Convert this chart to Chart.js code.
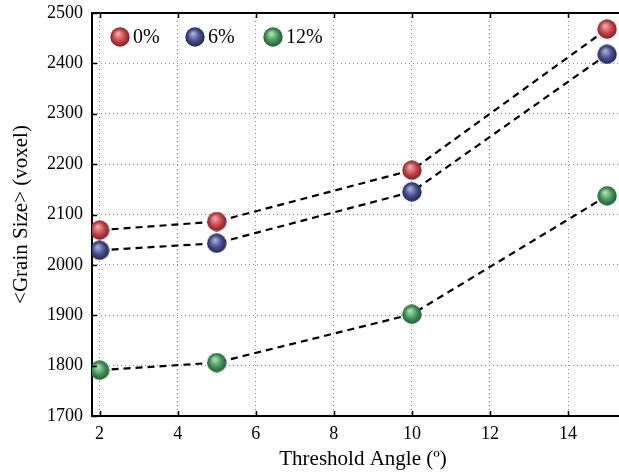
<!DOCTYPE html>
<html>
<head>
<meta charset="utf-8">
<script src="https://cdn.jsdelivr.net/npm/chart.js@4/dist/chart.umd.min.js"></script>
<style>
html,body{margin:0;padding:0;background:#fff;overflow:hidden;}
#wrap{width:619px;height:474px;overflow:hidden;}
</style>
</head>
<body>
<div id="wrap"><canvas id="c" width="634" height="474"></canvas></div>
<script>
const thresholdAngles = [2, 5, 10, 15];
const grain0 = [2069, 2086, 2188, 2468];
const grain6 = [2029, 2043, 2145, 2418];
const grain12 = [1791, 1806, 1902, 2137];
const seriesLabels = ['0%', '6%', '12%'];
const xTicks = [2, 4, 6, 8, 10, 12, 14];
const yTicks = [1700, 1800, 1900, 2000, 2100, 2200, 2300, 2400, 2500];

function ball(base, light, dark) {
  const s = 20;
  const c = document.createElement('canvas');
  c.width = s; c.height = s;
  const g = c.getContext('2d');
  const grd = g.createRadialGradient(s*0.4, s*0.33, 1, s/2, s/2, s/2);
  grd.addColorStop(0, light);
  grd.addColorStop(0.55, base);
  grd.addColorStop(1, dark);
  g.fillStyle = grd;
  g.beginPath(); g.arc(s/2, s/2, s/2 - 0.3, 0, Math.PI*2); g.fill();
  return c;
}
const balls = [
  ball('#c2454b', '#f2a0a2', '#7a1e22'),
  ball('#454c8c', '#a2a8d8', '#22264e'),
  ball('#43935a', '#a8dcb2', '#1f5a30')
];

function pts(arr) { return thresholdAngles.map((x, i) => ({x: x, y: arr[i]})); }
const allSeries = [grain0, grain6, grain12];

const datasets = allSeries.map((s, i) => ({
  label: seriesLabels[i],
  data: pts(s),
  showLine: true,
  borderColor: '#000',
  borderWidth: 2.2,
  borderDash: [7, 5],
  pointStyle: balls[i],
  pointRadius: 10,
  pointHoverRadius: 10,
  fill: false
}));

const serif = '"Liberation Serif", "Times New Roman", serif';

const extras = {
  id: 'extras',
  afterDraw(chart) {
    const ctx = chart.ctx;
    const a = chart.chartArea;
    const xs = chart.scales.x, ys = chart.scales.y;
    ctx.save();
    ctx.strokeStyle = '#000';
    ctx.lineWidth = 2;
    ctx.beginPath();
    ctx.moveTo(a.left - 1, a.top);
    ctx.lineTo(a.right, a.top);
    ctx.stroke();
    ctx.lineWidth = 1.5;
    ctx.beginPath();
    xTicks.forEach(v => {
      const px = Math.round(xs.getPixelForValue(v)) + 0.5;
      ctx.moveTo(px, a.bottom); ctx.lineTo(px, a.bottom - 5);
      ctx.moveTo(px, a.top); ctx.lineTo(px, a.top + 5);
    });
    yTicks.forEach(v => {
      const py = Math.round(ys.getPixelForValue(v)) + 0.5;
      ctx.moveTo(a.left, py); ctx.lineTo(a.left + 5, py);
    });
    ctx.stroke();
    // legend
    ctx.font = '20px ' + serif;
    ctx.fillStyle = '#000';
    ctx.textBaseline = 'middle';
    const legX = [120, 195, 273];
    chart.data.datasets.forEach((d, i) => {
      const img = balls[i];
      ctx.drawImage(img, legX[i] - img.width/2, 37 - img.height/2);
      ctx.fillText(d.label, legX[i] + 13, 38);
    });
    ctx.restore();
  }
};

new Chart(document.getElementById('c'), {
  type: 'scatter',
  data: { datasets },
  plugins: [extras],
  options: {
    responsive: false,
    animation: false,
    layout: { autoPadding: false, padding: { top: 13, right: 0, left: 0, bottom: 0 } },
    plugins: { legend: { display: false }, tooltip: { enabled: false } },
    scales: {
      x: {
        type: 'linear',
        min: 1.805,
        max: 15.69,
        afterBuildTicks: s => { s.ticks = xTicks.map(v => ({value: v})); },
        afterFit: s => { s.height = 58; s.paddingLeft = 0; s.paddingRight = 0; },
        grid: { color: '#8a8a8a', lineWidth: 1, drawTicks: false },
        border: { display: true, color: '#000', width: 2, dash: [1, 3] },
        ticks: { color: '#000', font: { family: serif, size: 18 }, padding: 7, maxRotation: 0,
                 callback: v => String(v) },
        title: { display: true, text: 'Threshold Angle (º)', color: '#000',
                 font: { family: serif, size: 21, lineHeight: 1.2 }, padding: { top: 0, bottom: 2 } }
      },
      y: {
        type: 'linear',
        min: 1700,
        max: 2500,
        afterBuildTicks: s => { s.ticks = yTicks.map(v => ({value: v})); },
        afterFit: s => { s.width = 92; s.paddingTop = 0; s.paddingBottom = 0; },
        grid: { color: '#8a8a8a', lineWidth: 1, drawTicks: false },
        border: { display: true, color: '#000', width: 2, dash: [1, 3] },
        ticks: { color: '#000', font: { family: serif, size: 18 }, padding: 9,
                 callback: v => String(v) },
        title: { display: true, text: '<Grain Size> (voxel)', color: '#000',
                 font: { family: serif, size: 21, lineHeight: 1.2 }, padding: { top: 9, bottom: 0 } }
      }
    }
  }
});
</script>
</body>
</html>
